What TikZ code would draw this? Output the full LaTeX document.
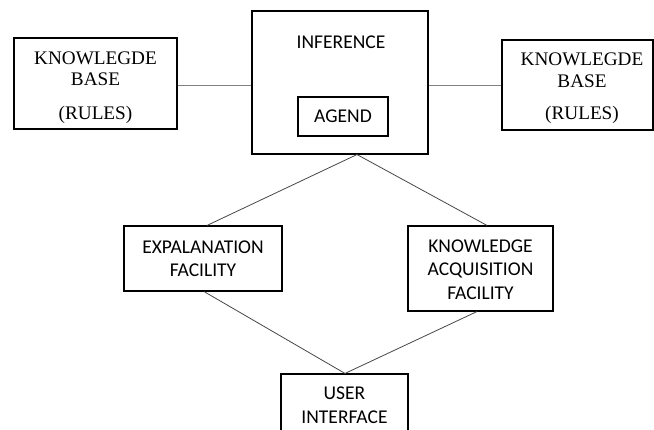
\documentclass[tikz,border=0pt]{standalone}
\usepackage{fontspec}
\setmainfont{Liberation Serif}
\newfontfamily\calib{Carlito}
\begin{document}
\begin{tikzpicture}[x=1pt,y=-1pt,
  box/.style={draw=black,line width=1.1pt,minimum width=#1,inner sep=0pt},
  serift/.style={anchor=base,inner sep=0pt,font=\fontsize{19.2}{22}\selectfont},
  sanst/.style={anchor=base,inner sep=0pt,font=\calib\fontsize{19.5}{22}\selectfont},
  hline/.style={draw=black!50,line width=1pt},
  dline/.style={draw=black!72,line width=0.8pt}]
\useasboundingbox (0,0) rectangle (654,430);
% boxes
\node[box=163pt,minimum height=91pt] (kbl) at (95.5,83.5) {};
\node[box=176pt,minimum height=143pt] (inf) at (340,82.5) {};
\node[box=90pt,minimum height=39pt] (agd) at (343,116.5) {};
\node[box=151pt,minimum height=90pt] (kbr) at (577.5,85) {};
\node[box=158pt,minimum height=65pt] (exp) at (203,258.5) {};
\node[box=145pt,minimum height=85pt] (kaf) at (480.5,268.5) {};
\node[box=127pt,minimum height=70pt] (ui) at (344.5,409) {};
% texts
\node[serift] (kbl1) at (95.5,65) {KNOWLEGDE};
\node[serift] (kbl2) at (95.5,86) {BASE};
\node[serift] (kbl3) at (95.5,119.3) {(RULES)};
\node[serift] (kbr1) at (582,65.7) {KNOWLEGDE};
\node[serift] (kbr2) at (582,87.3) {BASE};
\node[serift] (kbr3) at (582,120) {(RULES)};
\node[sanst] (inft) at (341,48.3) {INFERENCE};
\node[sanst] (agdt) at (343,122.7) {AGEND};
\node[sanst] (exp1) at (203,253.3) {EXPALANATION};
\node[sanst] (exp2) at (203,276.7) {FACILITY};
\node[sanst] (kaf1) at (480.5,252.7) {KNOWLEDGE};
\node[sanst] (kaf2) at (480.5,276) {ACQUISITION};
\node[sanst] (kaf3) at (480.5,299.3) {FACILITY};
\node[sanst] (ui1) at (344.5,400) {USER};
\node[sanst] (ui2) at (344.5,423.3) {INTERFACE};
% connectors
\draw[hline] (kbl.east |- 0,86) -- (inf.west |- 0,86);
\draw[hline] (inf.east |- 0,86) -- (kbr.west |- 0,86);
\draw[dline] (inf.south -| 357,0) -- (exp.north -| 207,0);
\draw[dline] (inf.south -| 357,0) -- (kaf.north -| 487,0);
\draw[dline] (exp.south -| 204,0) -- (ui.north -| 345,0);
\draw[dline] (kaf.south -| 477,0) -- (ui.north -| 345,0);
\end{tikzpicture}
\end{document}
